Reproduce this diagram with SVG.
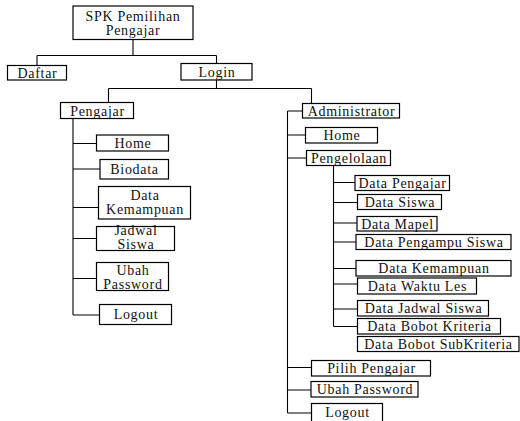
<svg xmlns="http://www.w3.org/2000/svg" width="520" height="421" viewBox="0 0 520 421">
<style>
rect{fill:#fff;stroke:#000;stroke-width:1.2}
text{font-family:"Liberation Serif","Times New Roman",serif;font-size:14px;letter-spacing:0.7px;text-anchor:middle;fill:#111}
.c path{fill:none;stroke:#000;stroke-width:1.1}
</style>
<rect x="0" y="0" width="520" height="421" style="stroke:none;fill:#fff"/>
<g class="c" id="connectors">
<path d="M133,39.5V55.5M37,55.5H216.5M37,55.5V65.5M216.5,55.5V63.5M216.5,80V88.5M108.5,88.5H311.5M108.5,88.5V102.5M311.5,88.5V103.5"/>
<path d="M73,118.5V315M73,143.5H96.5M73,169H100M73,207.5H98.5M73,238.5H96.5M73,278.5H96.5M73,315H99.5"/>
<path d="M287.5,111V413M287.5,111H302.5M287.5,135H305.5M287.5,158H306.5M287.5,367.5H311.5M287.5,390H311M287.5,413H311.5"/>
<path d="M333.5,165.5V326.5M333.5,182.5H355M333.5,202.5H357.5M333.5,223H357M333.5,242H356M333.5,268.5H356M333.5,284H357.5M333.5,309H357.5M333.5,326.5H357.5"/>
</g>
<g id="n-spk"><rect x="73" y="6" width="120" height="33.5"/><text x="133" y="21">SPK Pemilihan</text><text x="133" y="35">Pengajar</text></g>
<g id="n-daftar"><rect x="7.5" y="65.5" width="59" height="14.5"/><text x="37.5" y="77.5">Daftar</text></g>
<g id="n-login"><rect x="181" y="63.5" width="71" height="16.5"/><text x="217" y="76.5">Login</text></g>
<g id="n-pengajar"><rect x="60.5" y="102.5" width="73" height="16"/><text x="97.5" y="115.5">Pengajar</text></g>
<g id="n-home1"><rect x="96.5" y="135" width="72" height="16"/><text x="133" y="148">Home</text></g>
<g id="n-biodata"><rect x="100" y="159.5" width="68.5" height="19.5"/><text x="134.5" y="174">Biodata</text></g>
<g id="n-kemampuan1"><rect x="98.5" y="186.5" width="92" height="32.5"/><text x="145" y="200">Data</text><text x="145" y="214">Kemampuan</text></g>
<g id="n-jadwal1"><rect x="96.5" y="226.5" width="78" height="24"/><text x="136" y="234.5">Jadwal</text><text x="136" y="248.5">Siswa</text></g>
<g id="n-ubah1"><rect x="96.5" y="262.5" width="72" height="28"/><text x="133" y="274.5">Ubah</text><text x="133" y="288.5">Password</text></g>
<g id="n-logout1"><rect x="99.5" y="304.5" width="72" height="20"/><text x="136" y="319">Logout</text></g>
<g id="n-admin"><rect x="302.5" y="103.5" width="97" height="14.5"/><text x="351.5" y="115.5">Administrator</text></g>
<g id="n-home2"><rect x="305.5" y="127.5" width="72" height="15.5"/><text x="342" y="140">Home</text></g>
<g id="n-pengelolaan"><rect x="306.5" y="150.5" width="84" height="15"/><text x="349" y="162.5">Pengelolaan</text></g>
<g id="n-dpengajar"><rect x="355" y="175.5" width="94.5" height="15"/><text x="402.5" y="188">Data Pengajar</text></g>
<g id="n-dsiswa"><rect x="357.5" y="194.5" width="84" height="15"/><text x="400" y="207">Data Siswa</text></g>
<g id="n-dmapel"><rect x="357" y="216.5" width="80" height="14.5"/><text x="397.5" y="228.5">Data Mapel</text></g>
<g id="n-dpengampu"><rect x="356" y="234.5" width="155" height="15"/><text x="434" y="247">Data Pengampu Siswa</text></g>
<g id="n-dkemampuan"><rect x="356" y="260.5" width="155" height="15.5"/><text x="434" y="273">Data Kemampuan</text></g>
<g id="n-dwaktu"><rect x="357.5" y="278" width="119" height="16"/><text x="417.5" y="291">Data Waktu Les</text></g>
<g id="n-djadwal"><rect x="357.5" y="300.5" width="131" height="15.5"/><text x="423.5" y="313">Data Jadwal Siswa</text></g>
<g id="n-dbobot"><rect x="357.5" y="318.5" width="143" height="15.5"/><text x="429.5" y="331">Data Bobot Kriteria</text></g>
<g id="n-dbobotsub"><rect x="357.5" y="336.5" width="161.5" height="15"/><text x="438.5" y="349">Data Bobot SubKriteria</text></g>
<g id="n-pilih"><rect x="311.5" y="360.5" width="119" height="15.5"/><text x="371.5" y="373">Pilih Pengajar</text></g>
<g id="n-ubah2"><rect x="311" y="381.5" width="107" height="15.5"/><text x="365" y="394">Ubah Password</text></g>
<g id="n-logout2"><rect x="311.5" y="403.5" width="71" height="20"/><text x="347.5" y="417">Logout</text></g>
</svg>
